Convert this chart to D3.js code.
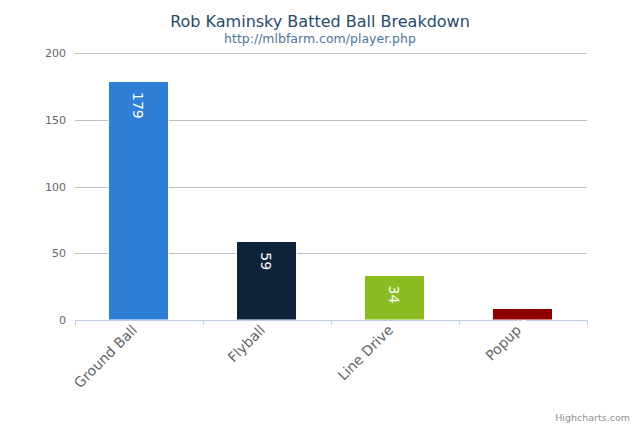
<!DOCTYPE html>
<html><head><meta charset="utf-8">
<script src="https://cdn.jsdelivr.net/npm/d3@7/dist/d3.min.js"></script>
<style>body{margin:0;background:#fff}svg{display:block}</style>
</head><body>
<svg id="c" width="640" height="427"></svg>
<script>
const categories = ["Ground Ball", "Flyball", "Line Drive", "Popup"];
const values = [179, 59, 34, 9];
const colors = ["#2f7ed8", "#0d233a", "#8bbc21", "#910000"];
const yTicks = [0, 50, 100, 150, 200];
const titleText = "Rob Kaminsky Batted Ball Breakdown";
const subtitleText = "http://mlbfarm.com/player.php";
const creditText = "Highcharts.com";

const font = "'DejaVu Sans', Verdana, sans-serif";
const svg = d3.select("#c").style("font-family", font);
const m = {left: 75, right: 53, top: 53, bottom: 107};
const W = 640, H = 427;
const x = d3.scaleBand().domain(categories).range([m.left, W - m.right]).paddingInner(0).paddingOuter(0);
const y = d3.scaleLinear().domain([0, 200]).range([H - m.bottom, m.top]);

svg.append("text").attr("x", 320).attr("y", 27).attr("text-anchor", "middle")
  .attr("fill", "#274b6d").style("font-size", "16px").text(titleText);
svg.append("text").attr("x", 320).attr("y", 43).attr("text-anchor", "middle")
  .attr("fill", "#4d759e").style("font-size", "12.5px").text(subtitleText);

// grid
const grid = svg.append("g");
grid.selectAll("line").data(yTicks.filter(d => d > 0)).join("line")
  .attr("x1", m.left).attr("x2", W - m.right)
  .attr("y1", d => Math.round(y(d)) + 0.5).attr("y2", d => Math.round(y(d)) + 0.5)
  .attr("stroke", "#c0c0c0").attr("stroke-width", 1);

// y labels
svg.append("g").selectAll("text").data(yTicks).join("text")
  .attr("x", 66).attr("y", d => y(d) + 4).attr("text-anchor", "end")
  .attr("fill", "#666").style("font-size", "11px").text(d => d);

// bars
const bw = 61;
svg.append("g").selectAll("rect").data(values).join("rect")
  .attr("x", (d, i) => Math.round(x(categories[i]) + x.bandwidth() / 2 - bw / 2) - 0.5)
  .attr("y", d => Math.round(y(d)) + 0.5)
  .attr("width", bw - 1)
  .attr("height", d => y(0) - Math.round(y(d)) - 0.5)
  .attr("fill", (d, i) => colors[i])
  .attr("stroke", "#ffffff").attr("stroke-width", 1);

// x axis
const xa = svg.append("g");
xa.append("line").attr("x1", m.left).attr("x2", W - m.right)
  .attr("y1", y(0) + 0.5).attr("y2", y(0) + 0.5).attr("stroke", "#c0d0e0");
const tickPos = categories.map(c => x(c)).concat([x(categories[categories.length - 1]) + x.bandwidth()]);
xa.selectAll("line.t").data(tickPos).join("line").attr("class", "t")
  .attr("x1", d => Math.round(d) + 0.5).attr("x2", d => Math.round(d) + 0.5)
  .attr("y1", y(0)).attr("y2", y(0) + 5).attr("stroke", "#c0d0e0");

// data labels
svg.append("g").selectAll("text").data(values).join("text")
  .attr("transform", (d, i) => `translate(${x(categories[i]) + x.bandwidth() / 2 - 6},${y(d) + 11}) rotate(90)`)
  .attr("text-anchor", "start").attr("fill", "#fff").style("font-size", "14px").text(d => d);

// x labels
xa.selectAll("text").data(categories).join("text")
  .attr("transform", d => `translate(${x(d) + x.bandwidth() / 2 - 1},${y(0) + 11}) rotate(-45)`)
  .attr("text-anchor", "end").attr("fill", "#666").style("font-size", "14px").text(d => d);

svg.append("text").attr("x", 630).attr("y", 421).attr("text-anchor", "end")
  .attr("fill", "#909090").style("font-size", "9.5px").text(creditText);
</script>
</body></html>
